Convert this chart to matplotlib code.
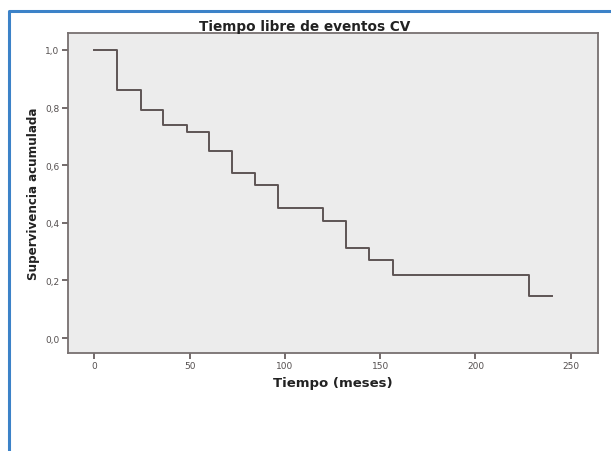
import matplotlib
matplotlib.use("Agg")
import matplotlib.pyplot as plt
from matplotlib.lines import Line2D
from matplotlib.ticker import FuncFormatter

# Data (Kaplan-Meier step curve)
tiempo = [0, 12.1, 24.3, 36.2, 48.5, 60.3, 72.5, 84.3, 96.5, 120.2, 132.2, 144.1, 156.5, 228.2, 240.0]
supervivencia = [1.0, 0.862, 0.793, 0.741, 0.714, 0.648, 0.573, 0.532, 0.450, 0.406, 0.314, 0.271, 0.218, 0.147, 0.147]
x_ticks = [0, 50, 100, 150, 200, 250]
y_ticks = [0.0, 0.2, 0.4, 0.6, 0.8, 1.0]

W, H = 611, 452
fig = plt.figure(figsize=(W / 100, H / 100), dpi=100)
fig.patch.set_facecolor("white")

ax = fig.add_axes([68 / W, 1 - 354 / H, (598 - 68) / W, (354 - 34) / H])
ax.set_facecolor("#ececec")

ax.plot(tiempo, supervivencia, drawstyle="steps-post", color="#5e5454", lw=1.4)

ax.set_xlim(-13.8, 264.3)
ax.set_ylim(-0.052, 1.059)
ax.set_xticks(x_ticks)
ax.set_yticks(y_ticks)
ax.yaxis.set_major_formatter(FuncFormatter(lambda v, p: f"{v:.1f}".replace(".", ",")))
ax.xaxis.set_major_formatter(FuncFormatter(lambda v, p: f"{int(v)}"))

for s in ax.spines.values():
    s.set_color("#777070")
    s.set_linewidth(1.3)
ax.tick_params(axis="both", direction="out", length=4, width=1.2, color="#5b5252",
               labelsize=6.5, labelcolor="#555050", pad=2)

ax.set_xlabel("Tiempo (meses)", fontsize=9.5, fontweight="bold", color="#222222", labelpad=4)
ax.set_ylabel("Supervivencia acumulada", fontsize=9.5, fontweight="bold", color="#222222",
              labelpad=4, fontstretch="condensed")

fig.text(305 / W, 1 - 27 / H, "Tiempo libre de eventos CV", ha="center", va="center",
         fontsize=9.8, fontweight="bold", color="#222222")

# Blue frame (left and top edges)
fig.add_artist(Line2D([9 / W, 9 / W, 1.0], [0.0, 1 - 12 / H, 1 - 12 / H],
                      transform=fig.transFigure, color="#3c82c8", lw=2.2))

fig.savefig("out.png", dpi=100)
